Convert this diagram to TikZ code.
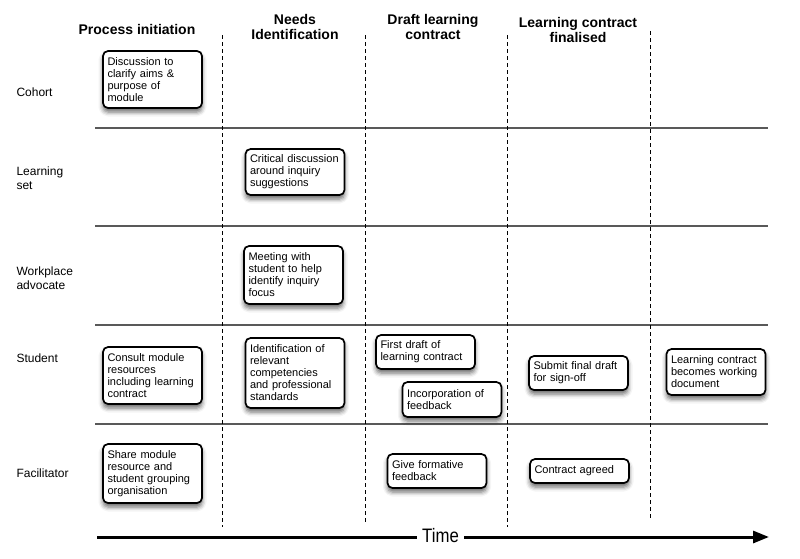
\documentclass[tikz,border=0pt]{standalone}
\usepackage{fontspec}
\setmainfont{Liberation Sans}
\usetikzlibrary{arrows.meta,shadows.blur}
\begin{document}
\begin{tikzpicture}[x=1pt,y=-1pt,
  card/.style={draw=black, line width=1.7pt, rounded corners=5pt, fill=white,
    text width=90pt, inner xsep=4.5pt, inner ysep=2pt, align=left,
    font=\fontsize{11}{12}\selectfont,
    blur shadow={shadow xshift=0pt, shadow yshift=-4pt, shadow blur radius=4.5pt, shadow opacity=60}},
  header/.style={font=\fontsize{14}{15.5}\selectfont\bfseries, align=center},
  rowlabel/.style={font=\fontsize{12}{13.5}\selectfont, align=left, anchor=west},
  lane/.style={draw=black!65, line width=1.2pt},
  phase/.style={draw=black, line width=0.9pt, dash pattern=on 4pt off 3pt},
  timeline/.style={line width=3pt}]
\useasboundingbox (0,0) rectangle (800,558);

% headers
\node[header] (h1) at (137,29) {Process initiation};
\node[header] (h2) at (295,27) {Needs\\Identification};
\node[header] (h3) at (433,27) {Draft learning\\contract};
\node[header] (h4) at (578,30) {Learning contract\\finalised};

% row labels
\node[rowlabel] (r1) at (13,92) {Cohort};
\node[rowlabel] (r2) at (13,178) {Learning\\set};
\node[rowlabel] (r3) at (13,278) {Workplace\\advocate};
\node[rowlabel] (r4) at (13,358) {Student};
\node[rowlabel] (r5) at (13,473) {Facilitator};

% lane separators
\coordinate (la1) at (95,128); \coordinate (lb1) at (768,128);
\coordinate (la2) at (95,226); \coordinate (lb2) at (768,226);
\coordinate (la3) at (95,325); \coordinate (lb3) at (768,325);
\coordinate (la4) at (95,424); \coordinate (lb4) at (768,424);
\draw[lane] (la1) -- (lb1);
\draw[lane] (la2) -- (lb2);
\draw[lane] (la3) -- (lb3);
\draw[lane] (la4) -- (lb4);

% phase separators
\coordinate (pa1) at (222,35); \coordinate (pb1) at (222,527);
\coordinate (pa2) at (365,35); \coordinate (pb2) at (365,524);
\coordinate (pa3) at (507,35); \coordinate (pb3) at (507,527);
\coordinate (pa4) at (650,31); \coordinate (pb4) at (650,520);
\draw[phase] (pa1) -- (pb1);
\draw[phase] (pa2) -- (pb2);
\draw[phase] (pa3) -- (pb3);
\draw[phase] (pa4) -- (pb4);

% cards
\node[card, minimum height=57pt] (c1) at (152.5,79.5) {Discussion to\\clarify aims \&\\purpose of\\module};
\node[card, minimum height=46pt] (c2) at (295,172) {Critical discussion\\around inquiry\\suggestions};
\node[card, minimum height=58pt] (c3) at (293.5,275) {Meeting with\\student to help\\identify inquiry\\focus};
\node[card, minimum height=57pt] (c4) at (152.5,375.5) {Consult module\\resources\\including learning\\contract};
\node[card, minimum height=70pt] (c5) at (295,373) {Identification of\\relevant\\competencies\\and professional\\standards};
\node[card, minimum height=59pt] (c6) at (152.5,473.5) {Share module\\resource and\\student grouping\\organisation};
\node[card, minimum height=34pt] (c7) at (425.5,352) {First draft of\\learning contract};
\node[card, minimum height=35pt] (c8) at (452,399.5) {Incorporation of\\feedback};
\node[card, minimum height=34pt] (c9) at (578.5,373) {Submit final draft\\for sign-off};
\node[card, minimum height=46pt] (c10) at (716,372) {Learning contract\\becomes working\\document};
\node[card, minimum height=34pt] (c11) at (437,471) {Give formative\\feedback};
\node[card, minimum height=24pt] (c12) at (579.5,471) {Contract agreed};

% time arrow
\coordinate (t0) at (97,537);
\coordinate (t1) at (769,537);
\node[font=\fontsize{19.5}{20}\selectfont, inner xsep=5pt, inner ysep=0pt] (time) at (440.5,535.5) {\scalebox{0.86}[1]{Time}};
\draw[timeline] (t0) -- (time.west |- t0);
\draw[timeline, -{Triangle[length=16pt,width=12pt]}] (time.east |- t1) -- (t1);
\end{tikzpicture}
\end{document}
